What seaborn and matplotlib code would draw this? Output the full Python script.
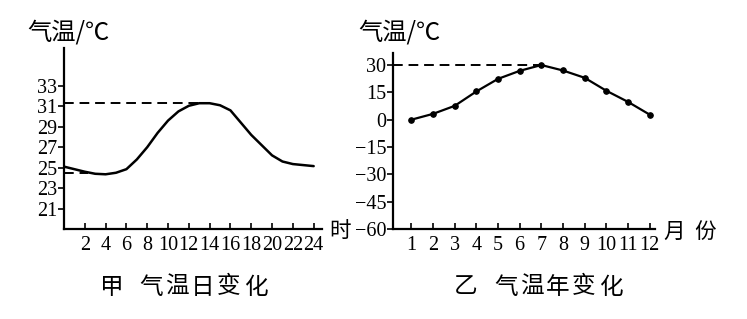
import matplotlib
matplotlib.use("Agg")
import matplotlib.pyplot as plt
import seaborn as sns
import pandas as pd

# ---- data ----
hours = list(range(0, 25))
day_temp = [25.1, 24.85, 24.6, 24.4, 24.35, 24.5, 24.85, 25.8, 27.0, 28.4,
            29.6, 30.5, 31.05, 31.3, 31.3, 31.1, 30.6, 29.4, 28.2, 27.2,
            26.2, 25.6, 25.35, 25.25, 25.15]
day_xticks = [2, 4, 6, 8, 10, 12, 14, 16, 18, 20, 22, 24]
day_yticks = [21, 23, 25, 27, 29, 31, 33]
day_max, day_max_hour = 31.3, 13.7
day_min, day_min_hour = 24.5, 2.3

months = list(range(1, 13))
month_temp = [0, 3.2, 7.6, 15.5, 22.4, 26.8, 30, 27, 23, 15.9, 9.8, 2.8]
year_yticks = [30, 15, 0, -15, -30, -45, -60]
year_yticklabels = ["30", "15", "0", "\u221215", "\u221230", "\u221245", "\u221260"]
year_max, year_max_month = 30, 7

W, H = 747, 319
sns.set_style("ticks")
plt.rcParams['font.family'] = ['Liberation Serif', 'Noto Sans CJK SC', 'DejaVu Sans']
cjk = ['Noto Sans CJK SC', 'DejaVu Sans']

fig = plt.figure(figsize=(W / 100, H / 100), dpi=100)

def ax_rect(x0, y_top, x1, y_bot):
    return [x0 / W, 1 - y_bot / H, (x1 - x0) / W, (y_bot - y_top) / H]

ax1 = fig.add_axes(ax_rect(64, 48, 322, 229))
ax2 = fig.add_axes(ax_rect(393, 53, 655, 229))

df_day = pd.DataFrame({"hour": hours, "temp": day_temp})
df_year = pd.DataFrame({"month": months, "temp": month_temp})

sns.lineplot(data=df_day, x="hour", y="temp", ax=ax1, color="black", linewidth=1.8)
sns.lineplot(data=df_year, x="month", y="temp", ax=ax2, color="black", linewidth=1.6,
             marker="o", markersize=4, markeredgecolor="black")

# dashed guide lines
ax1.plot([0, day_max_hour], [day_max, day_max], color="black", lw=1.4, ls=(0, (5, 3)))
ax1.plot([0, day_min_hour], [day_min, day_min], color="black", lw=1.4, ls=(0, (5, 3)))
ax2.plot([0.15, year_max_month], [year_max, year_max], color="black", lw=1.4, ls=(0, (5, 3)))

ax1.set_xlim(0, 24.8)
ax1.set_ylim(19, 36.7)
ax1.set_xticks(day_xticks)
ax1.set_xticklabels([str(v) for v in day_xticks])
ax1.set_yticks(day_yticks)
ax1.set_yticklabels([str(v) for v in day_yticks])

ax2.set_xlim(0.15, 12.25)
ax2.set_ylim(-60, 36.6)
ax2.set_xticks(months)
ax2.set_xticklabels([str(v) for v in months])
ax2.set_yticks(year_yticks)
ax2.set_yticklabels(year_yticklabels)

for ax in (ax1, ax2):
    ax.set_xlabel("")
    ax.set_ylabel("")
    for s in ("top", "right"):
        ax.spines[s].set_visible(False)
    for s in ("left", "bottom"):
        ax.spines[s].set_color("black")
        ax.spines[s].set_linewidth(1.6)
    ax.tick_params(axis="x", direction="in", length=4, width=1.2, pad=5,
                   labelsize=14.5, colors="black")
    ax.tick_params(axis="y", direction="out", length=4, width=1.2, pad=1,
                   labelsize=14.5, colors="black")

def ftext(x, y, s, size=14.5, ha="center"):
    fig.text(x / W, 1 - y / H, s, ha=ha, va="center", fontsize=size,
             family=cjk, color="black")

ftext(68, 32, "气温/℃", size=17.5)
ftext(399, 32, "气温/℃", size=17.5)
ftext(340, 231, "时", size=15.5)
ftext(674, 232, "月", size=15.5)
ftext(705, 232, "份", size=15.5)

# bottom captions, character by character (letter-spaced as in the reference)
cap1 = ["甲", "气", "温", "日", "变", "化"]
cap1_x = [112, 151, 177, 203, 229, 256]
cap2 = ["乙", "气", "温", "年", "变", "化"]
cap2_x = [466, 506, 532, 558, 584, 611]
for ch, x in zip(cap1, cap1_x):
    ftext(x, 287, ch, size=17)
for ch, x in zip(cap2, cap2_x):
    ftext(x, 287, ch, size=17)

fig.savefig("out.png", dpi=100)
